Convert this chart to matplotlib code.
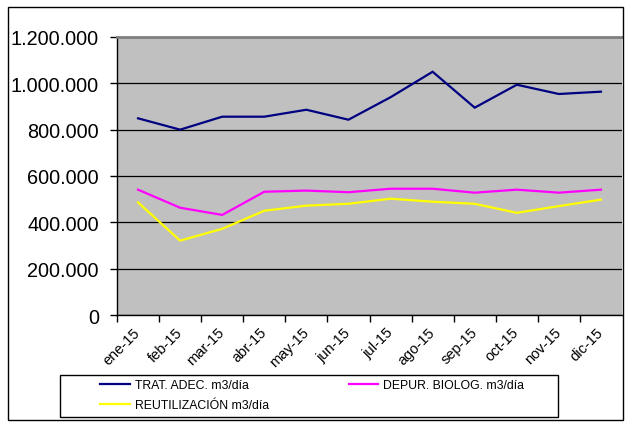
import matplotlib
matplotlib.use("Agg")
import matplotlib.pyplot as plt
import matplotlib.transforms as mtrans
from matplotlib.patches import Rectangle
from matplotlib.ticker import FuncFormatter, FixedLocator

months = ["ene-15", "feb-15", "mar-15", "abr-15", "may-15", "jun-15",
          "jul-15", "ago-15", "sep-15", "oct-15", "nov-15", "dic-15"]
trat = [849000, 800000, 856000, 856000, 886000, 843000,
        940000, 1050000, 895000, 994000, 954000, 964000]
depur = [541000, 463000, 432000, 532000, 537000, 530000,
         545000, 545000, 528000, 541000, 528000, 541000]
reut = [486000, 321000, 372000, 450000, 472000, 480000,
        502000, 489000, 480000, 441000, 470000, 498000]
labels = ["TRAT. ADEC. m3/día", "DEPUR. BIOLOG. m3/día", "REUTILIZACIÓN m3/día"]
yticks = [0, 200000, 400000, 600000, 800000, 1000000, 1200000]

plt.rcParams['font.family'] = ['Liberation Sans', 'DejaVu Sans']

W, H = 634, 431
fig = plt.figure(figsize=(W / 100, H / 100), dpi=100)

def fx(px):
    return px / W

def fy(py):
    return 1 - py / H

ax = fig.add_axes([fx(117), fy(316), fx(622) - fx(117), fy(38) - fy(316)])
ax.set_facecolor("#C0C0C0")

x = list(range(len(months)))
l1, = ax.plot(x, trat, color="#000080", lw=1.6, solid_joinstyle="miter")
l2, = ax.plot(x, depur, color="#FF00FF", lw=1.6, solid_joinstyle="miter")
l3, = ax.plot(x, reut, color="#FFFF00", lw=1.6, solid_joinstyle="miter")

ax.set_xlim(-0.5, len(months) - 0.5)
ax.set_ylim(0, 1200000)
ax.set_yticks(yticks)
ax.yaxis.set_major_formatter(FuncFormatter(lambda v, p: f"{int(v):,}".replace(",", ".")))
ax.tick_params(axis="y", length=5, width=1, pad=8, labelsize=14.3, direction="out")
ax.grid(axis="y", color="black", lw=0.9)
ax.set_axisbelow(True)

ax.set_xticks(x)
ax.set_xticklabels(months, rotation=45, ha="right", va="top", fontsize=10.5)
ax.tick_params(axis="x", which="major", length=0, pad=7)
ax.xaxis.set_minor_locator(FixedLocator([i - 0.5 for i in range(len(months))]))
ax.tick_params(axis="x", which="minor", length=5, width=1, direction="out")

shift = mtrans.ScaledTranslation(5 / 100, 0, fig.dpi_scale_trans)
for lab in ax.get_xticklabels():
    lab.set_transform(lab.get_transform() + shift)

for s in ["left", "bottom"]:
    ax.spines[s].set_color("black")
    ax.spines[s].set_linewidth(1)
ax.spines["top"].set_color("#808080")
ax.spines["top"].set_linewidth(2)
ax.spines["right"].set_visible(False)

# outer border
fig.add_artist(Rectangle((fx(8), fy(421)), fx(623) - fx(8), fy(8) - fy(421),
                         transform=fig.transFigure, fill=False, ec="black", lw=1))
# legend frame
fig.add_artist(Rectangle((fx(60), fy(418)), fx(558) - fx(60), fy(376) - fy(418),
                         transform=fig.transFigure, fill=False, ec="black", lw=1))

leg = fig.legend([l1, l3, l2], [labels[0], labels[2], labels[1]],
                 loc="upper left", bbox_to_anchor=(fx(100), fy(380)), ncol=2,
                 frameon=False, fontsize=8.8, handlelength=2.45, handletextpad=0.41,
                 columnspacing=6.5, labelspacing=0.65, borderpad=0, borderaxespad=0)

fig.savefig("out.png", dpi=100)
